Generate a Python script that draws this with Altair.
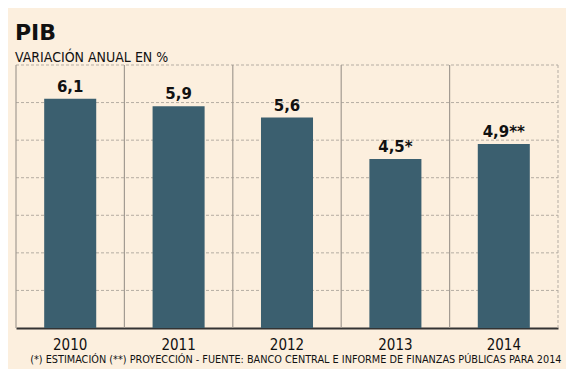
import altair as alt
import pandas as pd

years = ["2010", "2011", "2012", "2013", "2014"]
values = [6.1, 5.9, 5.6, 4.5, 4.9]
labels = ["6,1", "5,9", "5,6", "4,5*", "4,9**"]
grid_values = [1, 2, 3, 4, 5, 6, 7]

df = pd.DataFrame({"year": years, "value": values, "label": labels})
gdf = pd.DataFrame({"g": grid_values})

BG = "#FCEFDE"
BAR = "#3B5F6F"
GRID = "#B5ADA3"
NARROW = "DejaVu Sans Condensed, Liberation Sans Narrow, sans-serif"

W, H = 542, 263

base = alt.Chart(df)

xscale = alt.Scale(paddingInner=0, paddingOuter=0)
yscale = alt.Scale(domain=[0, 7], nice=False)

hgrid = alt.Chart(gdf).mark_rule(color=GRID, strokeWidth=1, strokeDash=[3, 2]).encode(
    y=alt.Y("g:Q", scale=yscale, axis=None),
    x=alt.value(0),
    x2=alt.value(W),
)

seps = base.mark_rule(color="#A39B92", strokeWidth=1.2).encode(
    x=alt.X("year:N", bandPosition=0, scale=xscale, sort=years),
    y=alt.value(0),
    y2=alt.value(H),
)

right_edge = base.transform_filter(alt.datum.year == years[-1]).mark_rule(
    color=GRID, strokeWidth=1, strokeDash=[3, 2]
).encode(
    x=alt.X("year:N", bandPosition=1, scale=xscale, sort=years),
    y=alt.value(0),
    y2=alt.value(H),
)

bars = base.mark_bar(color=BAR, width=alt.RelativeBandSize(0.48)).encode(
    x=alt.X(
        "year:N",
        sort=years,
        scale=xscale,
        axis=alt.Axis(
            title="(*) ESTIMACIÓN (**) PROYECCIÓN - FUENTE: BANCO CENTRAL E INFORME DE FINANZAS PÚBLICAS PARA 2014",
            titleFont=NARROW,
            titleFontSize=10.8,
            titleFontWeight="normal",
            titleColor="#111111",
            titleX=545,
            titleY=34,
            titleAlign="right",
            titleBaseline="alphabetic",
            labelFont=NARROW,
            labelFontSize=15,
            labelColor="#111111",
            labelAngle=0,
            labelPadding=9,
            ticks=False,
            domainColor="#333333",
            domainWidth=2,
            grid=False,
        ),
    ),
    y=alt.Y("value:Q", scale=yscale, axis=None),
)

text = base.mark_text(
    font="DejaVu Sans",
    fontSize=15,
    fontWeight="bold",
    color="#111111",
    baseline="alphabetic",
    dy=-7,
).encode(
    x=alt.X("year:N", sort=years, scale=xscale),
    y=alt.Y("value:Q", scale=yscale, axis=None),
    text="label:N",
)

chart = (
    alt.layer(hgrid, bars, seps, right_edge, text)
    .properties(
        width=W,
        height=H,
        autosize=alt.AutoSizeParams(type="none"),
        padding={"left": 8, "top": 57, "right": 8, "bottom": 41},
        background=BG,
        title=alt.TitleParams(
            text="PIB",
            subtitle="VARIACIÓN ANUAL EN %",
            anchor="start",
            frame="group",
            font="DejaVu Sans",
            fontSize=22,
            fontWeight="bold",
            color="#111111",
            subtitleFont=NARROW,
            subtitleFontSize=14,
            subtitleColor="#111111",
            subtitlePadding=6,
            offset=1,
            dx=-1,
            dy=3,
        ),
    )
    .configure_view(stroke=None)
)

chart.save("out.html", embed_options={"renderer": "svg", "actions": False})
